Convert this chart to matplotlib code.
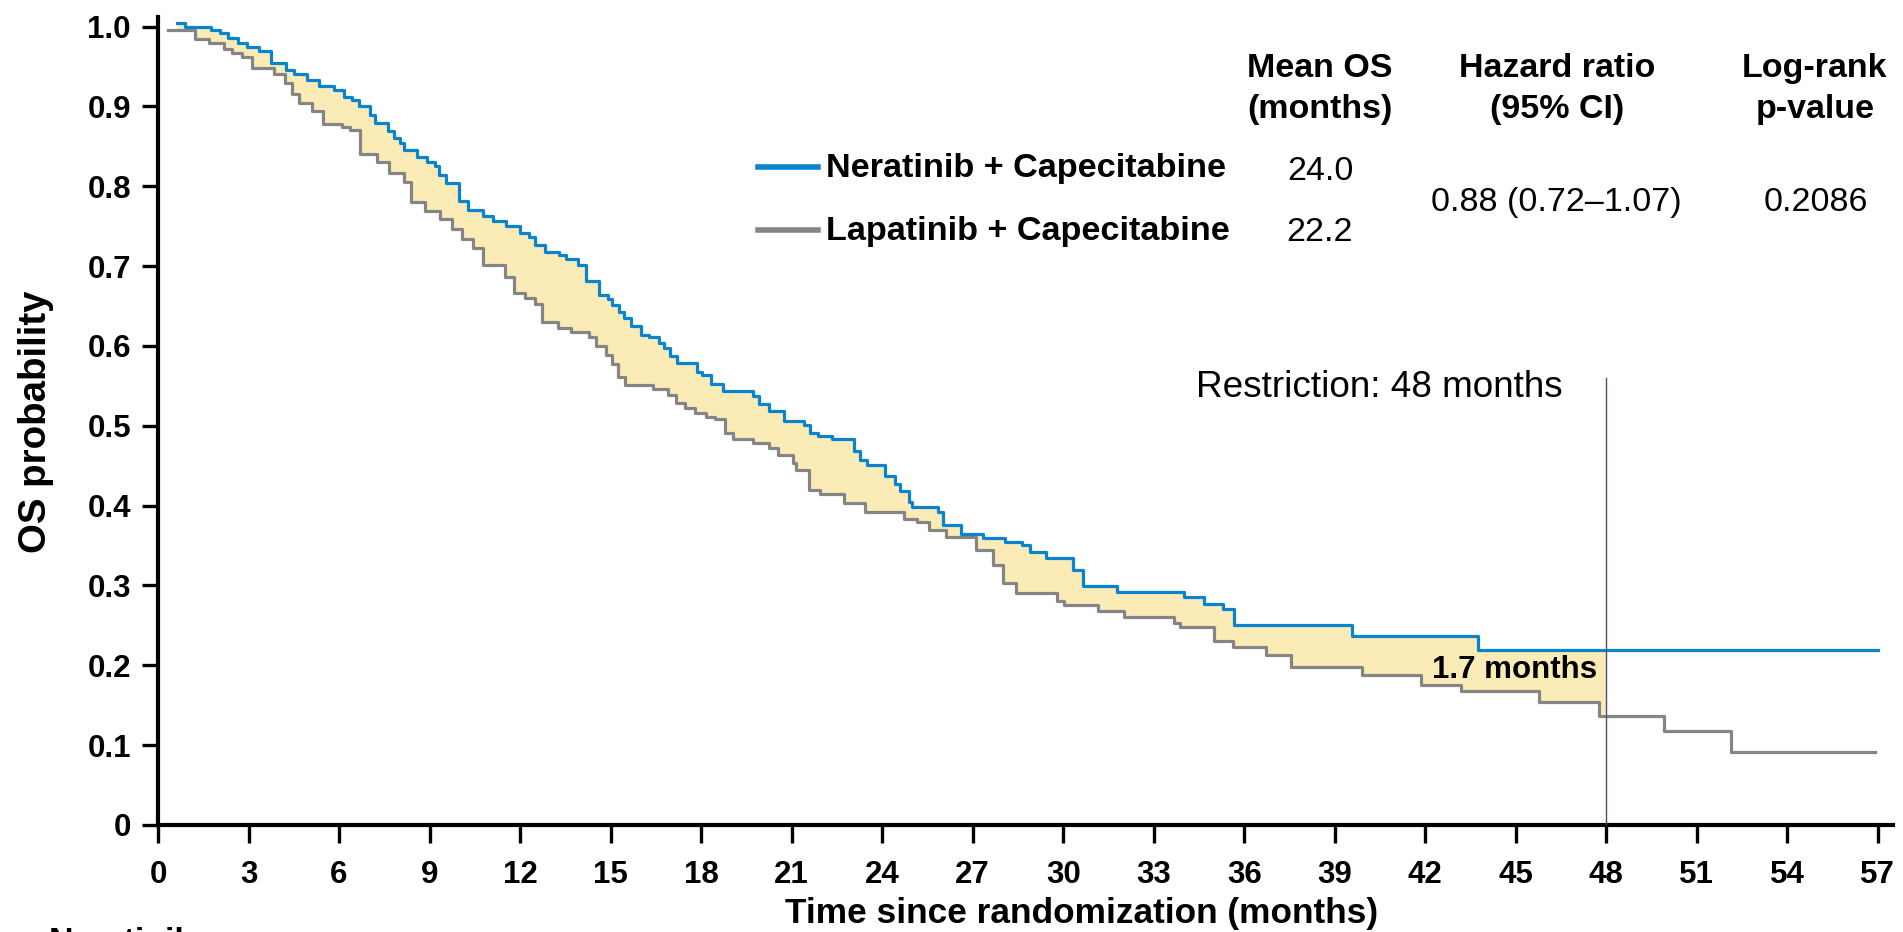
import numpy as np
import matplotlib
matplotlib.use("Agg")
import matplotlib.pyplot as plt
from matplotlib.lines import Line2D

W, H = 1903, 932

# Kaplan-Meier steps (time in months, OS probability after the step)
nera_t = [0.64, 0.88, 1.74, 2.05, 2.32, 2.66, 2.94, 3.35, 3.76, 4.24, 4.52, 4.93, 5.34, 5.82,
          6.17, 6.44, 6.65, 7.03, 7.20, 7.61, 7.82, 8.02, 8.16, 8.57, 8.91, 9.19, 9.30, 9.53,
          9.99, 10.26, 10.77, 11.11, 11.53, 12.01, 12.28, 12.49, 12.83, 13.29, 13.51, 13.91,
          14.20, 14.62, 14.91, 15.06, 15.28, 15.43, 15.68, 16.02, 16.27, 16.61, 16.76, 16.98,
          17.21, 17.87, 18.02, 18.32, 18.73, 19.72, 19.91, 20.24, 20.76, 21.42, 21.62, 21.87,
          22.34, 23.05, 23.27, 23.49, 24.09, 24.41, 24.60, 24.90, 25.00, 25.86, 26.01, 26.60,
          27.34, 28.08, 28.64, 28.89, 29.44, 30.33, 30.67, 31.78, 34.00, 34.68, 35.31, 35.66,
          39.56, 43.75, 57.0]
nera_s = [1.004, 1.000, 0.996, 0.992, 0.986, 0.979, 0.975, 0.969, 0.955, 0.946, 0.941, 0.933,
          0.925, 0.921, 0.912, 0.908, 0.901, 0.889, 0.879, 0.869, 0.861, 0.854, 0.846, 0.837,
          0.831, 0.825, 0.814, 0.804, 0.781, 0.770, 0.763, 0.756, 0.750, 0.741, 0.737, 0.727,
          0.718, 0.714, 0.709, 0.701, 0.681, 0.664, 0.659, 0.651, 0.643, 0.635, 0.625, 0.614,
          0.611, 0.604, 0.597, 0.588, 0.579, 0.567, 0.564, 0.552, 0.543, 0.537, 0.527, 0.518,
          0.506, 0.501, 0.491, 0.487, 0.483, 0.468, 0.457, 0.451, 0.437, 0.427, 0.418, 0.405,
          0.398, 0.392, 0.376, 0.365, 0.360, 0.355, 0.351, 0.342, 0.335, 0.320, 0.299, 0.292,
          0.286, 0.277, 0.270, 0.250, 0.237, 0.219, 0.219]

lapa_t = [0.33, 1.22, 1.70, 2.18, 2.46, 2.80, 3.12, 3.83, 4.22, 4.45, 4.66, 5.10, 5.48, 6.10,
          6.37, 6.69, 7.27, 7.65, 8.16, 8.37, 8.85, 9.33, 9.74, 10.08, 10.43, 10.77, 11.50,
          11.80, 12.15, 12.49, 12.74, 13.26, 13.70, 14.29, 14.50, 14.84, 15.03, 15.24, 15.48,
          16.42, 16.91, 17.18, 17.46, 17.80, 18.17, 18.46, 18.79, 19.06, 19.72, 20.24, 20.54,
          21.05, 21.16, 21.57, 21.94, 22.75, 23.42, 24.71, 25.15, 25.54, 26.13, 27.12, 27.67,
          28.01, 28.45, 29.78, 30.03, 31.16, 32.00, 33.67, 33.86, 34.99, 35.63, 36.71, 37.54,
          39.91, 41.87, 43.19, 45.77, 47.76, 49.90, 52.13, 56.9]
lapa_s = [0.996, 0.984, 0.980, 0.972, 0.967, 0.962, 0.948, 0.940, 0.929, 0.915, 0.904, 0.894,
          0.878, 0.874, 0.870, 0.841, 0.831, 0.817, 0.805, 0.780, 0.769, 0.759, 0.746, 0.734,
          0.723, 0.702, 0.686, 0.666, 0.660, 0.652, 0.630, 0.622, 0.617, 0.611, 0.600, 0.589,
          0.578, 0.561, 0.551, 0.546, 0.539, 0.529, 0.522, 0.516, 0.511, 0.508, 0.491, 0.484,
          0.479, 0.472, 0.464, 0.453, 0.445, 0.420, 0.415, 0.403, 0.392, 0.383, 0.379, 0.369,
          0.361, 0.344, 0.326, 0.303, 0.291, 0.281, 0.276, 0.268, 0.261, 0.2535, 0.248, 0.2305,
          0.2234, 0.213, 0.1975, 0.1875, 0.175, 0.168, 0.1545, 0.136, 0.118, 0.091, 0.091]

x_ticks = list(range(0, 58, 3))
y_ticks = [0, 0.1, 0.2, 0.3, 0.4, 0.5, 0.6, 0.7, 0.8, 0.9, 1.0]
y_tick_labels = ["0", "0.1", "0.2", "0.3", "0.4", "0.5", "0.6", "0.7", "0.8", "0.9", "1.0"]

arms = ["Neratinib + Capecitabine", "Lapatinib + Capecitabine"]
arm_colors = ["#0A84CE", "#858585"]
mean_os = ["24.0", "22.2"]
hazard_ratio = "0.88 (0.72\u20131.07)"
logrank_p = "0.2086"
restriction = 48
rmst_diff = "1.7 months"
fill_color = "#FBEBB7"


def step_value(t, s, grid):
    t = np.asarray(t)
    s = np.asarray(s)
    idx = np.searchsorted(t, grid, side="right") - 1
    return s[np.clip(idx, 0, None)]


def fpos(x, y):
    # figure pixel coords (top-left origin) -> figure fraction
    return x / W, 1 - y / H


plt.rcParams["font.family"] = ["Liberation Sans", "DejaVu Sans"]

fig = plt.figure(figsize=(W / 100, H / 100), dpi=100)
ax = fig.add_axes([158 / W, 107 / H, 1735 / W, 808 / H])

# shaded area between the curves up to the restriction time
grid = np.union1d(nera_t, lapa_t)
grid = grid[(grid >= nera_t[0]) & (grid < restriction)]
grid = np.append(grid, restriction)
upper = step_value(nera_t, nera_s, grid)
lower = step_value(lapa_t, lapa_s, grid)
ax.fill_between(grid, lower, upper, step="post", color=fill_color, lw=0, zorder=1)

ax.step(lapa_t, lapa_s, where="post", color=arm_colors[1], lw=2.3, zorder=3)
ax.step(nera_t, nera_s, where="post", color=arm_colors[0], lw=2.3, zorder=3)

ax.plot([restriction, restriction], [0, 0.56], color="#44546E", lw=1.0, zorder=4)
ax.text(46.56, 0.5365, f"Restriction: {restriction} months", ha="right", va="baseline",
        fontsize=26.6)
ax.text(47.68, 0.1838, rmst_diff, ha="right", va="baseline", fontsize=22.5,
        fontweight="bold", zorder=5)

ax.set_xlim(0, 57.5)
ax.set_ylim(0, 1.012)
ax.set_xticks(x_ticks)
ax.set_xticklabels([str(v) for v in x_ticks], fontsize=22.5, fontweight="bold")
ax.set_yticks(y_ticks)
ax.set_yticklabels(y_tick_labels, fontsize=22.5, fontweight="bold")
ax.tick_params(axis="x", length=13, width=2.4, pad=12)
ax.tick_params(axis="y", length=11.5, width=2.4, pad=8)
for side in ["top", "right"]:
    ax.spines[side].set_visible(False)
for side in ["left", "bottom"]:
    ax.spines[side].set_linewidth(3)

# axis titles
fig.text(*fpos(1082, 923), "Time since randomization (months)", ha="center",
         va="baseline", fontsize=25.4, fontweight="bold")
fig.text(*fpos(36.5, 422), "OS probability", rotation=90, ha="center", va="center",
         fontsize=27.6, fontweight="bold")

# legend + summary table
header_x = [1320, 1557, 1815]
headers = [("Mean OS", "(months)"), ("Hazard ratio", "(95% CI)"), ("Log-rank", "p-value")]
for x, (l1, l2) in zip(header_x, headers):
    fig.text(*fpos(x, 77.3), l1, ha="center", va="baseline", fontsize=24.5, fontweight="bold")
    fig.text(*fpos(x, 118.3), l2, ha="center", va="baseline", fontsize=24.5, fontweight="bold")

row_y = [167, 230]
text_base = [177, 240]
value_base = [180, 240.7]
for i, arm in enumerate(arms):
    x0, y0 = fpos(758, row_y[i])
    x1, _ = fpos(818, row_y[i])
    fig.add_artist(Line2D([x0, x1], [y0, y0], color=arm_colors[i], lw=4))
    fig.text(*fpos(826, text_base[i]), arm, ha="left", va="baseline", fontsize=24.7,
             fontweight="bold")
    fig.text(*fpos(1320, value_base[i]), mean_os[i], ha="center", va="baseline", fontsize=24.5)

fig.text(*fpos(1556, 210.7), hazard_ratio, ha="center", va="baseline", fontsize=24.5)
fig.text(*fpos(1816, 210.7), logrank_p, ha="center", va="baseline", fontsize=24.5)

# caption cut off by the bottom edge, as in the source image
fig.text(*fpos(49, 951), "Neratinib", ha="left", va="baseline", fontsize=24.5,
         fontweight="bold")

fig.savefig("out.png", dpi=100)
plt.close(fig)
